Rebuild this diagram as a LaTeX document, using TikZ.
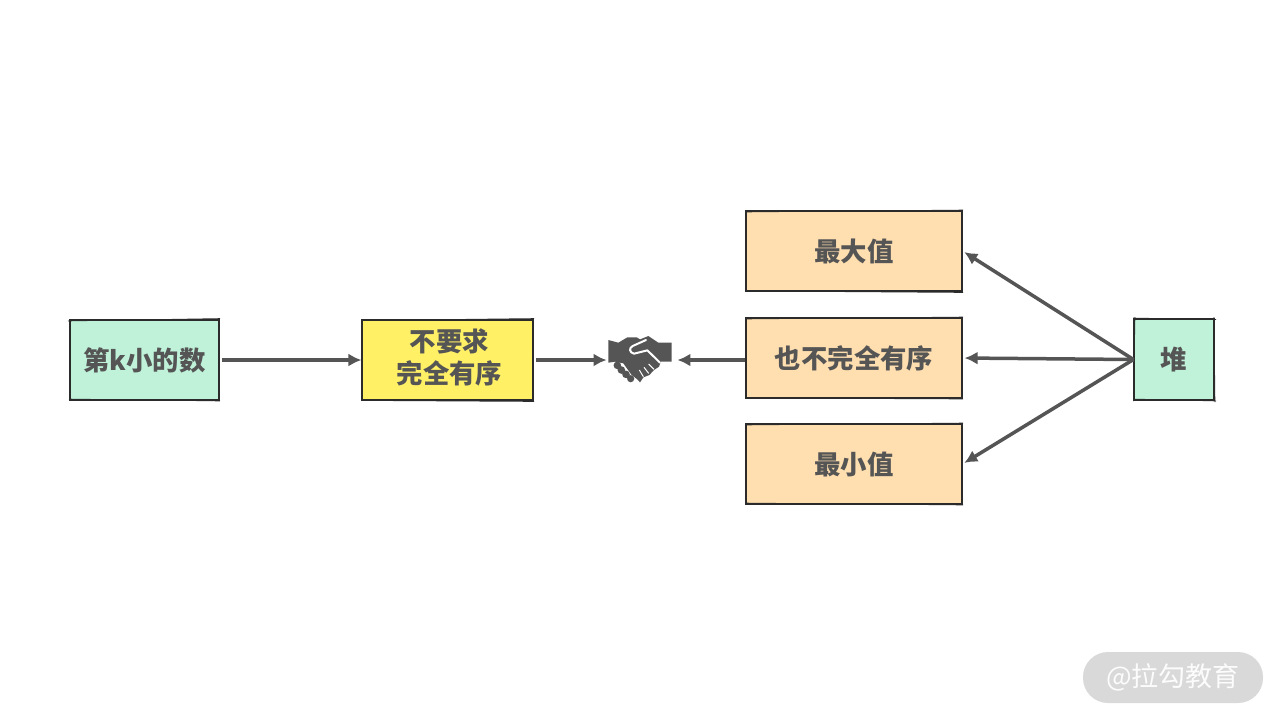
\documentclass[tikz,border=0pt]{standalone}
\usepackage{fontspec}
\setmainfont{Noto Sans CJK SC}
\definecolor{ink}{HTML}{555555}
\definecolor{edge}{HTML}{2B2B2B}
\definecolor{mint}{HTML}{BFF2D9}
\definecolor{sun}{HTML}{FFF066}
\definecolor{peach}{HTML}{FFDFB0}
\definecolor{wm}{HTML}{D9D9D9}
\usetikzlibrary{arrows.meta}
\tikzset{
  box/.style={draw=edge,line width=0.55pt,inner sep=0pt,align=center,text=ink,font=\fontsize{13.2}{16}\selectfont\bfseries},
  mintbox/.style={box,fill=mint},
  sunbox/.style={box,fill=sun},
  peachbox/.style={box,fill=peach,minimum width=108pt,minimum height=40pt},
  link/.style={draw=ink,line width=1.75pt,-{Latex[length=6.5pt,width=6.5pt]}},
  sketch/.style={edge,line width=0.3pt},
}
\begin{document}
\begin{tikzpicture}[x=0.5pt,y=-0.5pt]
\useasboundingbox (0,0) rectangle (1280,720);
\fill[white] (0,0) rectangle (1280,720);
% boxes
\node[mintbox,minimum width=74.5pt,minimum height=40pt] (kth) at (144.5,360) {第k小的数};
\node[sunbox,minimum width=85.5pt,minimum height=40pt] (req) at (447.5,360) {\hspace*{2pt}不要求\\\hspace*{2pt}完全有序\rule[-3.5pt]{0pt}{3.5pt}};
\node[peachbox] (maxv) at (854,251) {最大值};
\node[peachbox] (ord) at (854,358) {也不完全有序};
\node[peachbox] (minv) at (854,464) {最小值};
\node[mintbox,minimum width=40pt,minimum height=40.5pt] (heap) at (1174,359.5) {堆};
% sketch strokes
\draw[sketch] (68,321) -- (220,318.5);
\draw[sketch] (69,399) -- (220,401);
\draw[sketch] (361,320.5) -- (534,318.5);
\draw[sketch] (361,400.5) -- (534,401.5);
\draw[sketch] (745,212) -- (963,210);
\draw[sketch] (745,291) -- (963,292.5);
\draw[sketch] (745,319) -- (963,317);
\draw[sketch] (745,398) -- (963,399);
\draw[sketch] (745,425) -- (963,423);
\draw[sketch] (745,503) -- (963,505);
\draw[sketch] (1133,318) -- (1216,319.5);
\draw[sketch] (1133,399) -- (1216,401);
\draw[sketch] (1135,317) -- (1133.5,401);
\draw[sketch] (1214,317) -- (1215,402);
% handshake
\node[minimum width=33pt,minimum height=26pt,inner sep=0pt] (shake) at (640,360) {};
\begin{scope}[shift={(590,320)},x=0.1667pt,y=-0.1667pt]
\fill[ink] (55,60) -- (85,68) -- (112,52) -- (140,52) -- (150,58) -- (175,48) -- (205,68) -- (245,68) -- (245,125) -- (212,125) -- (207,140) -- (192,150) -- (178,165) -- (160,172) -- (150,187) -- (142,178) -- (125,165) -- (100,130) -- (75,125) -- (55,128) -- cycle;
\fill[ink] (82,136) circle[radius=1.9pt] (94,150) circle[radius=1.9pt] (108,163) circle[radius=1.9pt] (122,176) circle[radius=1.8pt];
\draw[white,line width=1pt,line join=round,line cap=round] (168,60) -- (128,78) .. controls (116,84) and (118,98) .. (132,101) -- (172,91) -- (210,128);
\draw[white,line width=0.5pt] (148,150) -- (160,170) (162,142) -- (176,160) (176,132) -- (192,148);
\end{scope}
% connectors
\draw[link,shorten <=1pt] (kth.east) -- (req.west);
\draw[link,shorten <=1pt] (req.east) -- (shake.west);
\draw[link,shorten >=2pt] (ord.west |- shake.east) -- (shake.east);
\draw[link,shorten >=1pt] (heap.west) -- (maxv.east);
\draw[link,shorten >=1pt] (heap.west) -- (ord.east);
\draw[link,shorten >=1pt] (heap.west) -- (minv.east);
% watermark
\node[fill=wm,rounded corners=12.5pt,minimum width=90pt,minimum height=25.5pt,inner sep=0pt,text=white!93!wm,font=\fontsize{13.5}{16}\selectfont] (mark) at (1173,677.5) {@拉勾教育};
\end{tikzpicture}
\end{document}
